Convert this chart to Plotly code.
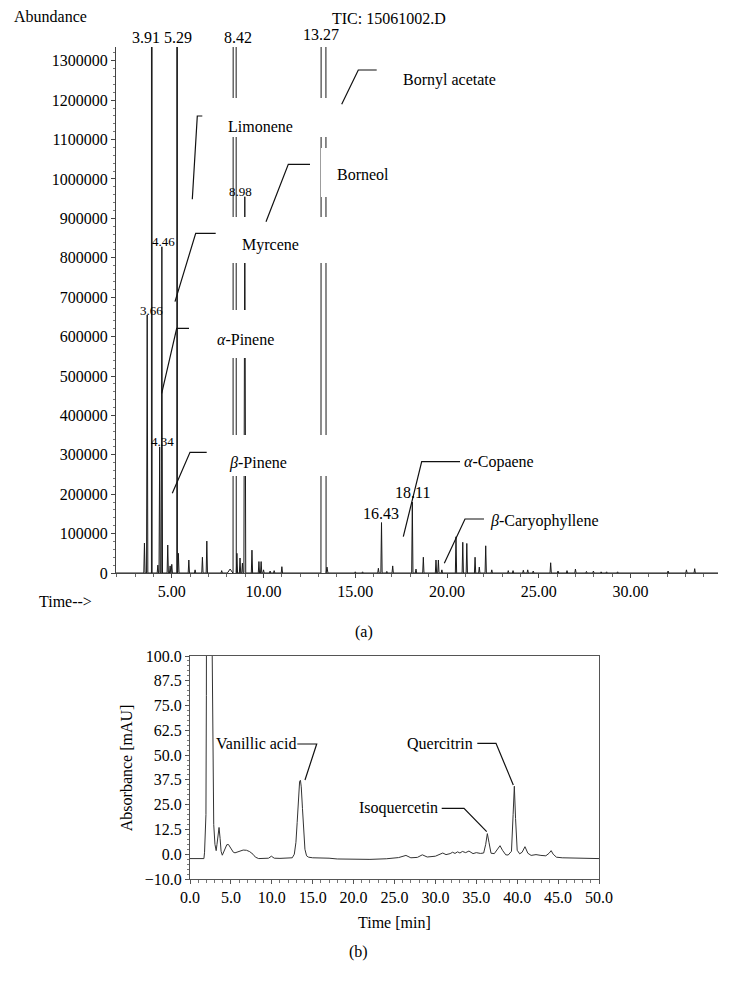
import plotly.graph_objects as go

W, H = 729, 985
FONT = "Liberation Serif"

# ---------------- (a) GC-MS TIC data ----------------
peak_times = [3.51, 3.66, 3.91, 4.24, 4.34, 4.46, 4.78, 4.91, 5.00, 5.29, 5.36, 5.93, 6.27,
              6.67, 6.91, 7.72, 8.18, 8.42, 8.55, 8.72, 8.85, 8.98, 9.37, 9.75, 9.87, 10.00,
              10.36, 10.58, 11.00, 13.27, 13.46, 15.00, 15.40, 16.26, 16.43, 16.72, 17.04,
              18.11, 18.31, 18.71, 19.40, 19.53, 19.72, 20.49, 20.86, 21.08, 21.53, 21.76,
              22.11, 22.44, 23.34, 23.60, 24.16, 24.40, 24.70, 25.65, 26.05, 26.54, 27.00,
              27.60, 27.98, 28.40, 28.70, 29.30, 32.05, 33.05, 33.50]
peak_heights = [76000, 655000, 20000000, 20000, 320000, 828000, 71000, 18000, 22000, 20000000,
                50000, 33000, 8000, 40000, 81000, 6000, 10000, 20000000, 50000, 38000, 25000,
                955000, 58000, 29000, 29000, 8000, 5000, 6000, 16000, 20000000, 15000, 3000,
                3000, 12000, 128000, 4000, 18000, 180000, 10000, 40000, 33000, 33000, 8000,
                92000, 78000, 75000, 40000, 15000, 69000, 8000, 6000, 6000, 7000, 8000, 5000,
                26000, 5000, 6000, 10000, 4000, 5000, 3000, 3000, 3000, 5000, 8000, 11000]
peak_widths = [0.035] * len(peak_times)
for t, w in [(3.91, 0.018), (5.29, 0.018), (8.18, 0.15), (8.42, 0.08), (8.98, 0.05),
             (13.27, 0.14), (13.46, 0.05)]:
    peak_widths[peak_times.index(t)] = w

tic_x, tic_y = [1.96], [0]
for t, h, w in sorted(zip(peak_times, peak_heights, peak_widths)):
    tic_x += [t - w, t, t + w]
    tic_y += [0, h, 0]
tic_x.append(34.77)
tic_y.append(0)

# ---------------- (b) HPLC data ----------------
hplc_time = [0, 1.7, 1.78, 1.85, 1.9, 1.95, 2.0, 2.05, 2.35, 2.65, 2.72, 2.8, 2.9, 3.05, 3.2,
             3.3, 3.42, 3.55, 3.68, 3.8, 3.95, 4.1, 4.3, 4.5, 4.7, 4.9, 5.1, 5.3, 5.5, 5.8,
             6.1, 6.5, 6.9, 7.3, 7.7, 8.0, 8.4, 9.0, 9.6, 9.95, 10.3, 11.0, 12.0, 12.5, 12.75,
             12.95, 13.1, 13.25, 13.4, 13.5, 13.6, 13.75, 13.9, 14.05, 14.25, 14.5, 15.0, 16.0,
             17.0, 18.0, 20.0, 22.0, 24.0, 25.5, 26.4, 27.0, 27.8, 28.4, 29.0, 30.0, 30.9,
             31.3, 31.8, 32.1, 32.4, 32.7, 33.0, 33.3, 33.7, 34.1, 34.6, 35.0, 35.5, 35.9,
             36.15, 36.35, 36.55, 36.8, 37.2, 37.6, 37.9, 38.2, 38.6, 38.9, 39.3, 39.5, 39.65,
             39.8, 40.0, 40.3, 40.6, 40.95, 41.3, 41.7, 42.3, 42.9, 43.5, 43.9, 44.15, 44.4,
             44.8, 45.5, 47.0, 50.0]
hplc_abs = [-2.2, -2.2, 1, 7, 8, 20, 80, 130, 1000, 130, 90, 40, 15, 5, 1.8,
            5, 11, 13.5, 8, 1.5, -0.5, 0.8, 3.2, 4.8, 4.9, 3.5, 2, 1.0, 0.7, 1.2,
            1.8, 2.1, 2.0, 1.3, 0, -1.5, -2.2, -2.2, -2.0, -1.0, -2.0, -2.1, -2.1, -1.8, 0,
            6, 16, 29, 36.8, 37.3, 34, 23, 10, 2.5, -0.8, -1.5, -1.8, -1.8,
            -2.0, -2.4, -2.6, -2.6, -2.3, -1.7, -0.6, -1.8, -1.6, -0.3, -1.4, -1.0, 0.6,
            -0.2, 0.3, 1.0, 0.4, 1.2, 0.6, 1.4, 0.8, 1.6, 0.3, 0.8, 0.4, 0.6,
            5, 10.4, 6, 0.5, 0.3, 2.5, 4.3, 2, -0.3, -0.4, 1.5, 20, 34.3,
            18, 2, 0.2, 1.0, 3.8, 0.5, -0.6, -0.2, -0.6, -0.8, 0.5, 1.8, 0,
            -1.5, -1.8, -1.9, -2.2]

b_ytickvals = [-12.5, 0, 12.5, 25, 37.5, 50, 62.5, 75, 87.5, 100]
b_yticktext = ["\u221210.0", "0.0", "12.5", "25.0", "37.5", "50.0", "62.5", "75.0", "87.5", "100.0"]


def px(x):
    return x / W


def py(y):
    return 1 - y / H


fig = go.Figure()
fig.add_trace(go.Scatter(x=tic_x, y=tic_y, mode="lines", xaxis="x", yaxis="y",
                         line=dict(color="#1a1a1a", width=1), hoverinfo="skip"))
fig.add_trace(go.Scatter(x=hplc_time, y=hplc_abs, mode="lines", xaxis="x2", yaxis="y2",
                         line=dict(color="#333333", width=1), hoverinfo="skip"))

axfont = dict(family=FONT, size=16, color="black")
common = dict(showgrid=False, zeroline=False, automargin=False, tickfont=axfont)
fig.update_layout(
    width=W, height=H, margin=dict(l=0, r=0, t=0, b=0, pad=0, autoexpand=False),
    paper_bgcolor="white", plot_bgcolor="white", showlegend=False,
    font=axfont,
    xaxis=dict(domain=[px(116), px(718)], range=[1.96, 34.77], anchor="y",
               showline=True, linecolor="#444", linewidth=1,
               tick0=0, dtick=5, tickformat=".2f", ticks="outside", ticklen=4, tickcolor="#444",
               minor=dict(dtick=1, ticks="outside", ticklen=3, tickcolor="#666"), **common),
    yaxis=dict(domain=[py(573), py(47)], range=[0, 1335000], anchor="x",
               showline=True, linecolor="#444", linewidth=1,
               tick0=0, dtick=100000, tickformat="d", ticks="outside", ticklen=4, tickcolor="#444",
               minor=dict(dtick=20000, ticks="outside", ticklen=2, tickcolor="#777"), **common),
    xaxis2=dict(domain=[px(190), px(599)], range=[0, 50], anchor="y2",
                showline=True, mirror=True, linecolor="#555", linewidth=1,
                tick0=0, dtick=5, tickformat=".1f", ticks="outside", ticklen=4,
                tickcolor="#555",
                minor=dict(dtick=1, ticks="outside", ticklen=3, tickcolor="#777"), **common),
    yaxis2=dict(domain=[py(879), py(656)], range=[-12.5, 100], anchor="x2",
                showline=True, mirror=True, linecolor="#555", linewidth=1,
                tickmode="array", tickvals=b_ytickvals, ticktext=b_yticktext,
                ticks="outside", ticklen=4, tickcolor="#555",
                minor=dict(tickmode="linear", tick0=0, dtick=2.5, ticks="outside", ticklen=2,
                           tickcolor="#777"), **common),
)

shapes = []
# white boxes behind the compound labels (gaps in the saturated peaks)
for x0, y0, x1, y1 in [(212, 98, 330, 137), (321, 148, 400, 197), (212, 217, 330, 263),
                       (212, 310, 300, 358), (212, 435, 330, 476)]:
    shapes.append(dict(type="rect", xref="paper", yref="paper", x0=px(x0), x1=px(x1),
                       y0=py(y1), y1=py(y0), fillcolor="white", line=dict(width=0),
                       layer="above"))
leaders = [
    [(341.7, 104.3), (358.3, 70), (376.7, 70)],
    [(192.3, 199.3), (197.3, 116), (202.3, 116)],
    [(266, 221.7), (288.3, 164.3), (310, 164.3)],
    [(175, 301.7), (195.7, 233.3), (215.7, 233.3)],
    [(161.7, 393.3), (176.7, 328.3), (189, 328.3)],
    [(172.3, 493.3), (190, 452.3), (206.7, 452.3)],
    [(403.3, 536.7), (421.7, 461.7), (460, 461.7)],
    [(444.3, 563.3), (465, 519), (484, 519)],
    [(297.3, 744), (316.7, 744), (305, 780)],
    [(441.7, 808.3), (464, 808.3), (486.7, 831.7)],
    [(477.3, 743.3), (496, 743.3), (513.3, 785)],
]
for pts in leaders:
    path = "M " + " L ".join(f"{px(a):.5f},{py(b):.5f}" for a, b in pts)
    shapes.append(dict(type="path", xref="paper", yref="paper", path=path,
                       line=dict(color="#111", width=1.2), layer="above"))
fig.update_layout(shapes=shapes)

labels = [
    ("Abundance", 50.5, 17, 16, 0),
    ("TIC: 15061002.D", 388.7, 18, 16, 0),
    ("3.91", 145.7, 38, 16, 0),
    ("5.29", 177.7, 38, 16, 0),
    ("8.42", 237.8, 37, 16, 0),
    ("13.27", 320.8, 35, 16, 0),
    ("Bornyl acetate", 449.7, 80, 16, 0),
    ("Limonene", 260, 126, 16, 0),
    ("Borneol", 363, 175, 16, 0),
    ("8.98", 240.5, 191.7, 13, 0),
    ("Myrcene", 270.3, 245, 16, 0),
    ("4.46", 163.3, 241, 13, 0),
    ("3.66", 151.3, 310, 13, 0),
    ("<i>\u03b1</i>-Pinene", 245.8, 339.3, 16, 0),
    ("4.34", 162, 441, 13, 0),
    ("<i>\u03b2</i>-Pinene", 258.3, 462.7, 16, 0),
    ("16.43", 380.5, 513.3, 16, 0),
    ("18.11", 412.8, 492.3, 16, 0),
    ("<i>\u03b1</i>-Copaene", 498.7, 462.3, 16, 0),
    ("<i>\u03b2</i>-Caryophyllene", 544.2, 520.7, 16, 0),
    ("Time-->", 65, 601.7, 16, 0),
    ("(a)", 364, 632, 16, 0),
    ("Vanillic acid", 256.2, 743.3, 16, 0),
    ("Isoquercetin", 398, 808.3, 16, 0),
    ("Quercitrin", 439.5, 743.3, 16, 0),
    ("Absorbance [mAU]", 126.7, 767.5, 16, -90),
    ("Time [min]", 394.3, 922.7, 16, 0),
    ("(b)", 358.3, 951.7, 16, 0),
]
for text, x, y, size, ang in labels:
    fig.add_annotation(text=text, x=px(x), y=py(y), xref="paper", yref="paper",
                       showarrow=False, xanchor="center", yanchor="middle", textangle=ang,
                       font=dict(family=FONT, size=size, color="black"))

fig.write_html("out.html", config={"displayModeBar": False},
               post_script="document.body.style.margin='0';document.body.style.overflow='hidden';")
